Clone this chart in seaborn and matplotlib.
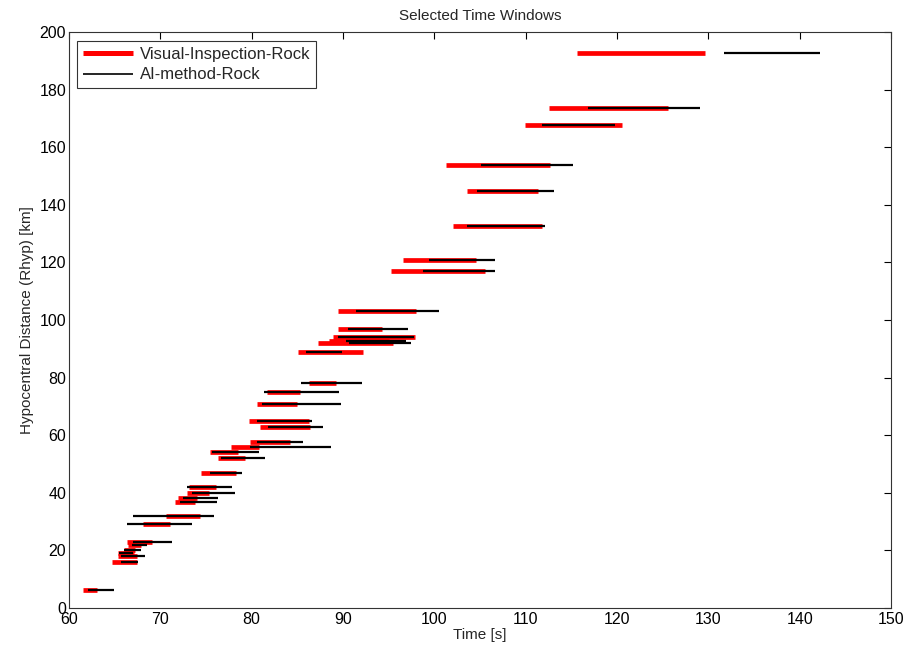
import numpy as np
import pandas as pd
import matplotlib
matplotlib.use('Agg')
import matplotlib.pyplot as plt
import seaborn as sns
from matplotlib.lines import Line2D

# Distancia hipocentral de cada evento (km)
rhyp = [6.0, 15.8, 18.0, 19.1, 20.0, 21.6, 22.8, 28.9, 31.9, 36.6,
        38.0, 39.9, 41.9, 46.7, 51.9, 54.0, 55.8, 57.7, 62.9, 64.9,
        70.8, 74.8, 78.0, 89.0, 91.9, 92.8, 94.0, 96.9, 103.0, 116.9,
        121.0, 132.8, 144.9, 154.0, 167.8, 173.7, 192.9]

# Janelas da inspecao visual (s)
vis_start = [61.56, 64.76, 65.40, 65.40, 66.02, 66.42, 66.40, 68.10, 70.65, 71.63,
             71.93, 72.94, 73.14, 74.44, 76.30, 75.39, 77.76, 79.80, 80.90, 79.71,
             80.54, 81.63, 86.26, 85.09, 87.28, 88.50, 88.92, 89.40, 89.40, 95.23,
             96.54, 102.09, 103.58, 101.25, 109.97, 112.55, 115.60]
vis_end = [63.10, 67.50, 67.40, 67.15, 67.19, 67.88, 69.14, 71.05, 74.33, 73.75,
           73.97, 75.35, 76.07, 78.27, 79.26, 78.46, 80.82, 84.18, 86.42, 86.25,
           84.95, 85.27, 89.27, 92.20, 95.43, 95.00, 97.86, 94.28, 98.04, 105.51,
           104.60, 111.79, 111.39, 112.70, 120.58, 125.57, 129.66]

# Janelas do metodo AI (s)
ai_start = [62.04, 65.69, 65.65, 65.50, 66.02, 66.90, 67.06, 66.38, 67.00, 72.14,
            72.51, 73.46, 72.92, 75.46, 76.67, 75.61, 79.80, 80.60, 81.82, 80.60,
            81.08, 81.37, 85.38, 85.93, 90.64, 90.34, 89.50, 90.56, 91.37, 98.73,
            99.42, 103.62, 104.64, 105.08, 111.79, 116.82, 131.70]
ai_end = [64.92, 67.60, 68.28, 67.04, 67.88, 68.50, 71.27, 73.42, 75.86, 76.16,
          76.27, 78.16, 77.82, 78.96, 81.50, 80.79, 88.65, 85.57, 87.85, 86.60,
          89.79, 89.58, 92.13, 89.87, 97.48, 96.95, 97.77, 97.13, 100.52, 106.64,
          106.64, 112.15, 113.10, 115.14, 119.77, 129.07, 142.20]

ev = np.arange(len(rhyp))
df_vis = pd.DataFrame({'evento': np.concatenate([ev, ev]),
                       'Time': vis_start + vis_end,
                       'Rhyp': rhyp + rhyp})
df_ai = pd.DataFrame({'evento': np.concatenate([ev, ev]),
                      'Time': ai_start + ai_end,
                      'Rhyp': rhyp + rhyp})

sns.set_style('white')
plt.rcParams['font.family'] = ['Liberation Sans', 'DejaVu Sans']
plt.rcParams['font.size'] = 11.5

fig = plt.figure(figsize=(9.09, 6.6), dpi=100)
ax = fig.add_axes([0.0759, 0.0795, 0.9043, 0.8713])

sns.lineplot(data=df_vis, x='Time', y='Rhyp', units='evento', estimator=None,
             sort=False, color='#ff0000', linewidth=3.4, solid_capstyle='butt', ax=ax)
sns.lineplot(data=df_ai, x='Time', y='Rhyp', units='evento', estimator=None,
             sort=False, color='black', linewidth=1.6, solid_capstyle='butt', ax=ax)

ax.set_xlim(60, 150)
ax.set_ylim(0, 200)
ax.set_xticks(np.arange(60, 151, 10))
ax.set_yticks(np.arange(0, 201, 20))
ax.tick_params(direction='in', top=True, right=True, length=5, width=0.8,
               labelsize=11.5, colors='black', pad=2)
ax.tick_params(axis='x', pad=3)
for s in ax.spines.values():
    s.set_color('#333333')
    s.set_linewidth(0.8)

ax.set_title('Selected Time Windows', fontsize=11, pad=9)
ax.set_xlabel('Time [s]', fontsize=11, labelpad=1)
ax.set_ylabel('Hypocentral Distance (Rhyp) [km]', fontsize=11, labelpad=4)

handles = [Line2D([0], [0], color='#ff0000', lw=3.6, solid_capstyle='butt'),
           Line2D([0], [0], color='black', lw=1.2, solid_capstyle='butt')]
leg = ax.legend(handles, ['Visual-Inspection-Rock', 'AI-method-Rock'],
                loc='upper left', fontsize=12, frameon=True, fancybox=False,
                edgecolor='black', handlelength=3.0, borderaxespad=0.5,
                borderpad=0.35, labelspacing=0.35, handletextpad=0.4)
leg.get_frame().set_linewidth(0.8)

fig.savefig('out.png', dpi=100)
